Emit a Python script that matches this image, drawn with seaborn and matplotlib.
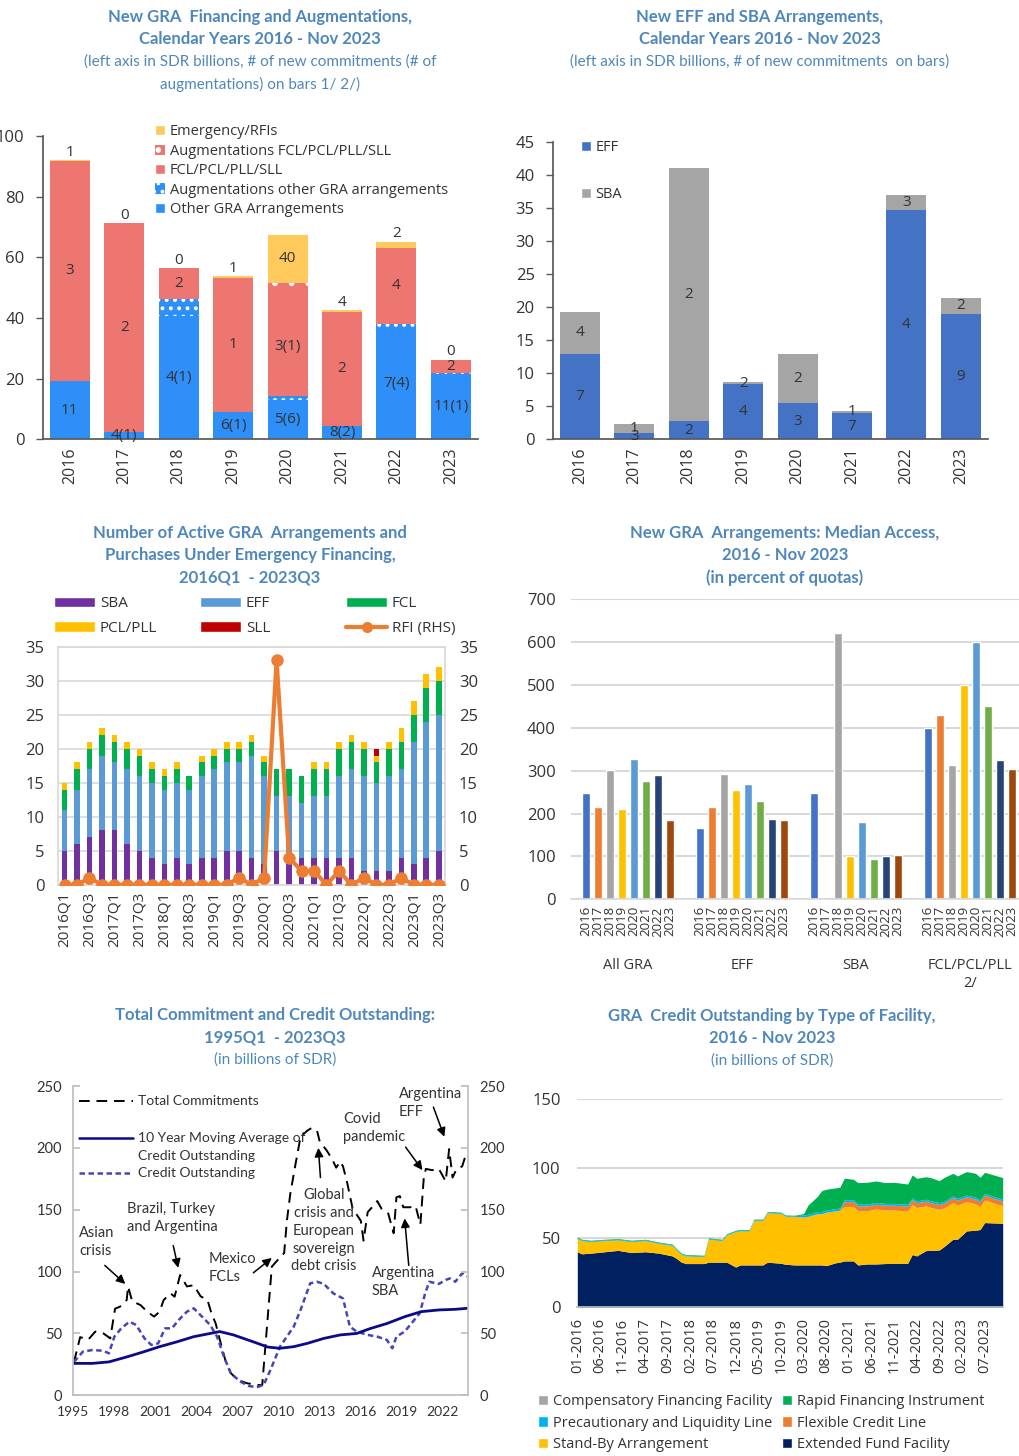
import matplotlib
matplotlib.use("Agg")
import matplotlib.pyplot as plt
import matplotlib.transforms as mtrans
from matplotlib.patches import Patch
from matplotlib.lines import Line2D
import seaborn as sns
import numpy as np
import pandas as pd

# ---------------- data ----------------
# panel 1: new GRA financing and augmentations (SDR bn)
years = ["2016", "2017", "2018", "2019", "2020", "2021", "2022", "2023"]
other_gra = [19.3, 2.5, 40.8, 8.8, 13.0, 4.5, 36.9, 21.4]
aug_other = [0.0, 0.0, 5.5, 0.2, 1.3, 0.0, 1.0, 0.4]
fcl_pcl = [72.5, 68.7, 10.1, 44.3, 32.7, 37.4, 25.3, 4.4]
aug_fcl = [0.0, 0.0, 0.0, 0.0, 4.6, 0.0, 0.0, 0.0]
emergency = [0.3, 0.0, 0.0, 0.4, 15.8, 0.7, 1.9, 0.0]
other_lbl = ["11", "4(1)", "4(1)", "6(1)", "5(6)", "8(2)", "7(4)", "11(1)"]
fcl_lbl = ["3", "2", "2", "1", "3(1)", "2", "4", "2"]
emerg_lbl = ["1", "0", "0", "1", "40", "4", "2", "0"]

# panel 2: new EFF and SBA arrangements (SDR bn)
eff_new = [12.95, 0.9, 2.8, 8.4, 5.5, 4.0, 34.7, 19.0]
sba_new = [6.25, 1.4, 38.2, 0.2, 7.35, 0.3, 2.3, 2.4]
eff_cnt = ["7", "3", "2", "4", "3", "7", "4", "9"]
sba_cnt = ["4", "1", "2", "2", "2", "1", "3", "2"]

# panel 3: number of active arrangements by quarter
quarters = [f"{y}Q{q}" for y in range(2016, 2024) for q in range(1, 5)][:31]
sba_q = [5, 6, 7, 8, 8, 6, 5, 4, 3, 4, 3, 4, 4, 5, 5, 4, 3, 5, 3, 4, 4, 4, 4, 4, 2, 2, 2, 4, 3, 4, 5]
eff_q = [6, 8, 10, 11, 10, 11, 11, 11, 11, 11, 11, 12, 13, 13, 13, 15, 13, 8, 10, 8, 9, 9, 12, 13, 14, 13, 14, 13, 18, 20, 20]
fcl_q = [3, 3, 3, 3, 3, 3, 3, 2, 2, 2, 2, 2, 2, 2, 2, 2, 2, 4, 4, 4, 4, 4, 4, 4, 4, 3, 4, 4, 4, 5, 5]
pcl_q = [1, 1, 1, 1, 1, 1, 1, 1, 1, 1, 0, 1, 1, 1, 1, 1, 1, 0, 0, 0, 1, 1, 1, 1, 1, 1, 1, 2, 2, 2, 2]
sll_q = [0] * 25 + [1] + [0] * 5
rfi_q = [0, 0, 1, 0, 0, 0, 0, 0, 0, 0, 0, 0, 0, 0, 1, 0, 1, 33, 4, 2, 2, 0, 2, 0, 1, 0, 0, 1, 0, 0, 0]

# panel 4: median access (percent of quota)
access_cat = ["All GRA", "EFF", "SBA", "FCL/PCL/PLL\n2/"]
med_all = [248, 215, 301, 210, 327, 276, 289, 186]
med_eff = [167, 215, 292, 255, 269, 229, 188, 186]
med_sba = [248, np.nan, 622, 100, 181, 93, 100, 104]
med_fcl = [400, 430, 313, 500, 600, 450, 324, 303]

# panel 5: commitments and credit outstanding (SDR bn)
comm_t = [1995.05, 1995.5, 1996.1, 1996.6, 1997.2, 1997.7, 1998.05, 1998.4, 1998.9, 1999.0,
          1999.3, 1999.9, 2000.4, 2000.9, 2001.3, 2001.6, 2002.1, 2002.4, 2002.8, 2003.3,
          2003.8, 2004.3, 2004.8, 2005.1, 2005.4, 2005.7, 2006.1, 2006.5, 2007.0, 2007.7,
          2008.5, 2008.8, 2009.5, 2009.9, 2010.4, 2010.6, 2010.85, 2011.2, 2011.6, 2012.1,
          2012.4, 2012.8, 2013.0, 2013.5, 2013.9, 2014.2, 2014.5, 2014.7, 2015.0, 2015.4,
          2016.0, 2016.2, 2016.5, 2016.9, 2017.2, 2017.5, 2018.0, 2018.4, 2018.6, 2018.85,
          2019.1, 2019.6, 2020.0, 2020.35, 2020.6, 2020.75, 2021.2, 2021.7, 2022.2, 2022.45,
          2022.7, 2023.0, 2023.4, 2023.6, 2023.75]
comm_v = [27, 47, 45, 51.5, 50, 46, 70, 71.6, 77, 88,
          76, 73, 67.6, 63.6, 67.6, 77, 82.4, 79.7, 97.2, 88,
          89, 80, 77, 66, 58, 45, 28.5, 18, 12.4, 9.7,
          8.3, 8.3, 104, 109, 115, 141, 163, 185, 209, 214,
          216, 214, 205, 198, 191, 184, 189, 185, 172, 151,
          141, 125, 148, 153, 157, 151, 147, 131, 160, 161,
          152, 152, 153, 138, 176, 183, 182, 183, 173, 199,
          176, 183, 185, 192, 188]
credit_t = [1995.05, 1995.7, 1996.4, 1997.2, 1997.6, 1998.0, 1998.5, 1999.1, 1999.6, 2000.2,
            2000.7, 2001.2, 2001.7, 2002.2, 2002.7, 2003.3, 2003.8, 2004.4, 2005.0, 2005.5,
            2006.0, 2006.5, 2007.2, 2007.8, 2008.4, 2008.9, 2009.4, 2010.1, 2011.1, 2011.6,
            2012.3, 2012.8, 2013.3, 2014.0, 2014.7, 2015.2, 2015.7, 2016.5, 2017.2, 2017.9,
            2018.3, 2018.6, 2019.2, 2019.8, 2020.3, 2020.7, 2021.0, 2021.7, 2022.2, 2022.5,
            2022.9, 2023.4, 2023.75]
credit_v = [27, 35.3, 36.6, 36, 33.9, 47.4, 54.1, 59.5, 56.8, 46,
            40.7, 42, 54.1, 54.1, 60.9, 67.6, 70.3, 63.6, 56.8, 47.4,
            31.3, 17.8, 11.1, 7.6, 6.5, 8.4, 20.5, 39.4, 55.5, 69,
            90.5, 91.8, 90, 82.3, 78.3, 55.5, 51.5, 48.8, 47.4, 44.8,
            38, 47.4, 51.5, 59.5, 66.3, 82.4, 91.8, 90, 93.2, 94.5,
            91.8, 98.6, 96]
ma_t = [1995.05, 1996.4, 1997.6, 1998.9, 2000.1, 2001.3, 2002.5, 2003.8, 2005.0, 2005.7,
        2006.7, 2008.2, 2009.2, 2010.1, 2011.1, 2012.1, 2013.3, 2014.5, 2015.7, 2016.7,
        2017.9, 2019.2, 2020.4, 2021.7, 2022.9, 2023.75]
ma_v = [25.8, 25.8, 27, 31, 35, 39.3, 43, 47.4, 50, 51.5,
        48.8, 43, 39, 38, 39.3, 42, 46, 48.8, 50, 54,
        58, 63.5, 67.6, 69, 69.5, 70.3]

# panel 6: GRA credit outstanding by facility (SDR bn)
months = ["2016-01", "2016-02", "2016-04", "2016-07", "2016-10", "2017-01", "2017-04", "2017-07",
          "2017-10", "2017-11", "2017-12", "2018-01", "2018-05", "2018-06", "2018-09", "2018-10",
          "2018-12", "2019-01", "2019-03", "2019-04", "2019-06", "2019-07", "2019-10", "2019-11",
          "2020-01", "2020-03", "2020-04", "2020-06", "2020-07", "2020-08", "2020-10", "2020-11",
          "2020-12", "2021-02", "2021-03", "2021-05", "2021-07", "2021-09", "2021-11", "2022-02",
          "2022-03", "2022-04", "2022-06", "2022-07", "2022-09", "2022-10", "2022-12", "2023-01",
          "2023-03", "2023-05", "2023-06", "2023-07", "2023-11"]
out_eff = [40, 38.5, 39, 40, 41, 39.4, 40, 39, 37, 35, 32.5, 31.5, 31.5, 32.5, 32.5, 32.5,
           29, 30.5, 30.5, 30.5, 30.5, 32.5, 31.7, 31, 30.5, 30.5, 30.5, 30.5, 30.5, 30, 32, 32.5,
           33.4, 33.4, 30.5, 31.2, 31.2, 31.5, 31.7, 31.7, 38, 37, 40.8, 41, 41.3, 43.7, 49, 49,
           55, 55.5, 56, 61, 60.5]
out_sba = [9.5, 9.5, 8.3, 8.0, 7.5, 7.9, 8.0, 7.0, 7.5, 6.0, 5.5, 5.5, 5.0, 16.5, 15.5, 19.5,
           25.5, 24.5, 24.5, 32.0, 32.0, 35.5, 35.8, 34.5, 35.0, 34.5, 35.0, 37.0, 37.0, 38.5, 37.5, 37.5,
           39.1, 39.1, 38.9, 38.3, 39.6, 38.5, 38.3, 37.7, 36.0, 34.8, 32.2, 31.0, 29.2, 27.8, 26.4, 24.7,
           21.0, 19.0, 16.5, 16.3, 12.5]
out_fcl = [0.0] * 32 + [3.6, 3.6] + [3.5] * 19
out_pll = [0.5] * 25 + [1.5] * 7 + [1.4, 1.4] + [1.3] * 19
out_rfi = [0.5] * 24 + [0.3, 1.0, 6.7, 10.7, 15.0, 15.0, 15.0, 14.9,
           15.5, 14.7, 15.6, 15.7, 15.4, 15.0, 15.2, 14.6, 16.5, 16.3, 16.2, 16.7, 15.9, 17.1, 16.3, 16.1,
           16.9, 17.2, 16.3, 15.1, 15.6]
out_cff = [0.0] * 53

# ---------------- style ----------------
W, H = 1019, 1456
TITLE_C = "#4F87BA"
TXT = "#333333"
sns.set_theme(style="white")
plt.rcParams["font.family"] = ["Open Sans", "DejaVu Sans"]
plt.rcParams["hatch.linewidth"] = 1.6
plt.rcParams["text.color"] = TXT
plt.rcParams["xtick.color"] = TXT
plt.rcParams["ytick.color"] = TXT

fig = plt.figure(figsize=(W / 100, H / 100), dpi=100)


def box(l, t, r, b):
    return [l / W, 1 - b / H, (r - l) / W, (b - t) / H]


def title(x, y, lines):
    for i, (s, bold) in enumerate(lines):
        fig.text(x / W, 1 - (y + 22.4 * i) / H, s, ha="center", va="center", color=TITLE_C,
                 family="Lato", fontsize=12 if bold else 11,
                 fontweight="bold" if bold else "normal")


def stacked(ax, x, layers, width):
    # draw the cumulative totals from the top down so each layer covers the one below
    cum = np.cumsum([np.asarray(v, float) for v, _, _ in layers], axis=0)
    for i in range(len(layers) - 1, -1, -1):
        _, c, h = layers[i]
        sns.barplot(x=x, y=cum[i], color=c, width=width, saturation=1, errorbar=None, ax=ax,
                    hatch=h, edgecolor="white" if h else c, linewidth=0)
    return cum


def excel_axes(ax):
    for s in ["top", "right"]:
        ax.spines[s].set_visible(False)
    for s in ["left", "bottom"]:
        ax.spines[s].set_color("#595959")
    ax.set_xlabel("")
    ax.set_ylabel("")


# ---------------- panel 1 ----------------
BLUE1, RED1, GOLD1 = "#2D8FF7", "#EE7670", "#FFC95C"
ax1 = fig.add_axes(box(42.7, 136, 478, 439.3))
cum1 = stacked(ax1, years, [(other_gra, BLUE1, None), (aug_other, BLUE1, ".."),
                            (fcl_pcl, RED1, None), (aug_fcl, RED1, "."),
                            (emergency, GOLD1, None)], 0.735)
ax1.set_ylim(0, 100)
ax1.set_yticks(range(0, 101, 20))
excel_axes(ax1)
ax1.tick_params(axis="y", direction="out", length=5, width=1, color="#595959", pad=8, labelsize=12, left=True)
ax1.tick_params(axis="x", length=0, pad=6, labelsize=11.5, labelrotation=90)
for i in range(len(years)):
    ax1.text(i, cum1[0][i] / 2, other_lbl[i], ha="center", va="center", fontsize=11)
    ax1.text(i, (cum1[1][i] + cum1[2][i]) / 2, fcl_lbl[i], ha="center", va="center", fontsize=11)
    if emergency[i] > 5:
        ax1.text(i, (cum1[3][i] + cum1[4][i]) / 2, emerg_lbl[i], ha="center", va="center", fontsize=11)
    else:
        ax1.text(i, cum1[4][i] + 2.6, emerg_lbl[i], ha="center", va="center", fontsize=11)
h1 = [Patch(facecolor=GOLD1, label="Emergency/RFIs"),
      Patch(facecolor=RED1, hatch=".", edgecolor="white", linewidth=0, label="Augmentations FCL/PCL/PLL/SLL"),
      Patch(facecolor=RED1, label="FCL/PCL/PLL/SLL"),
      Patch(facecolor=BLUE1, hatch="..", edgecolor="white", linewidth=0, label="Augmentations other GRA arrangements"),
      Patch(facecolor=BLUE1, label="Other GRA Arrangements")]
ax1.legend(handles=h1, loc="upper left", bbox_to_anchor=(0.258, 1.038), frameon=False, fontsize=10.5,
           handlelength=0.7, handleheight=0.7, handletextpad=0.3, labelspacing=0.3, borderpad=0,
           borderaxespad=0)
title(260, 17, [("New GRA  Financing and Augmentations,", True), ("Calendar Years 2016 - Nov 2023", True),
                ("(left axis in SDR billions, # of new commitments (# of", False),
                ("augmentations) on bars 1/ 2/)", False)])

# ---------------- panel 2 ----------------
EFF2, SBA2 = "#4472C4", "#A5A5A5"
ax2 = fig.add_axes(box(552.7, 141.7, 988, 439.3))
cum2 = stacked(ax2, years, [(eff_new, EFF2, None), (sba_new, SBA2, None)], 0.735)
ax2.set_ylim(0, 45)
ax2.set_yticks(range(0, 46, 5))
excel_axes(ax2)
ax2.tick_params(axis="y", direction="out", length=5, width=1, color="#595959", pad=8, labelsize=12, left=True)
ax2.tick_params(axis="x", length=0, pad=6, labelsize=11.5, labelrotation=90)
for i in range(len(years)):
    ax2.text(i, cum2[0][i] / 2, eff_cnt[i], ha="center", va="center", fontsize=11)
    ax2.text(i, (cum2[0][i] + cum2[1][i]) / 2, sba_cnt[i], ha="center", va="center", fontsize=11)
ax2.legend(handles=[Patch(facecolor=EFF2, label="EFF"), Patch(facecolor=SBA2, label="SBA")],
           loc="upper left", bbox_to_anchor=(0.064, 1.005), frameon=False, fontsize=10.5,
           handlelength=0.7, handleheight=0.7, handletextpad=0.3, labelspacing=2.2, borderpad=0,
           borderaxespad=0)
title(760, 17, [("New EFF and SBA Arrangements,", True), ("Calendar Years 2016 - Nov 2023", True),
                ("(left axis in SDR billions, # of new commitments  on bars)", False)])

# ---------------- panel 3 ----------------
C3 = {"SBA": "#7030A0", "EFF": "#5B9BD5", "FCL": "#00B050", "PCL/PLL": "#FFC000", "SLL": "#C00000"}
RFI_C = "#ED7D31"
GRID = "#D9D9D9"
ax3 = fig.add_axes(box(58.3, 646.7, 445, 884.7))
stacked(ax3, quarters, [(sba_q, C3["SBA"], None), (eff_q, C3["EFF"], None), (fcl_q, C3["FCL"], None),
                        (pcl_q, C3["PCL/PLL"], None), (sll_q, C3["SLL"], None)], 0.45)
ax3.set_ylim(0, 35)
ax3.set_yticks(range(0, 36, 5))
ax3.yaxis.grid(True, color=GRID, lw=1.2)
ax3.set_axisbelow(True)
for s in ax3.spines.values():
    s.set_color(GRID)
ax3.set_xticks(range(0, len(quarters), 2))
ax3.set_xticklabels(quarters[::2])
ax3.tick_params(axis="x", length=0, pad=5, labelsize=11, labelrotation=90)
ax3.tick_params(axis="y", length=0, pad=10, labelsize=12)
ax3.set_xlabel("")
ax3b = ax3.twinx()
sns.lineplot(x=np.arange(len(quarters)), y=rfi_q, ax=ax3b, color=RFI_C, lw=3, marker="o",
             markersize=9, markeredgewidth=0)
ax3b.set_ylim(0, 35)
ax3b.set_yticks(range(0, 36, 5))
ax3b.tick_params(axis="y", length=0, pad=10, labelsize=12)
for s in ax3b.spines.values():
    s.set_visible(False)
ax3.set_xlim(-0.5, len(quarters) - 0.5)
leg_cols = [[("SBA", Patch(facecolor=C3["SBA"])), ("PCL/PLL", Patch(facecolor=C3["PCL/PLL"]))],
            [("EFF", Patch(facecolor=C3["EFF"])), ("SLL", Patch(facecolor=C3["SLL"]))],
            [("FCL", Patch(facecolor=C3["FCL"])),
             ("RFI (RHS)", Line2D([], [], color=RFI_C, lw=3, marker="o", markersize=8, markeredgewidth=0))]]
for xl, col in zip([54, 200, 346], leg_cols):
    fig.legend(handles=[h for _, h in col], labels=[t for t, _ in col], loc="upper left",
               bbox_to_anchor=(xl / W, 1 - 596 / H), frameon=False, fontsize=11,
               handlelength=2.7, handleheight=0.65, handletextpad=0.3, labelspacing=0.65,
               borderpad=0, borderaxespad=0)
title(250, 533, [("Number of Active GRA  Arrangements and", True),
                 ("Purchases Under Emergency Financing,", True), ("2016Q1  - 2023Q3", True)])

# ---------------- panel 4 ----------------
PAL4 = ["#4472C4", "#ED7D31", "#A5A5A5", "#FFC000", "#5B9BD5", "#70AD47", "#264478", "#9E480E"]
df4 = pd.DataFrame({"cat": np.repeat(access_cat, len(years)),
                    "year": years * len(access_cat),
                    "val": med_all + med_eff + med_sba + med_fcl}).fillna(0)
ax4 = fig.add_axes(box(571, 599.3, 1027, 899.3))
sns.barplot(data=df4, x="cat", y="val", hue="year", palette=PAL4, width=0.84, gap=0.28,
            saturation=1, errorbar=None, legend=False, ax=ax4)
ax4.set_ylim(0, 700)
ax4.set_yticks(range(0, 701, 100))
ax4.yaxis.grid(True, color=GRID, lw=1.5)
ax4.set_axisbelow(True)
for s in ["top", "right", "left"]:
    ax4.spines[s].set_visible(False)
ax4.spines["bottom"].set_color(GRID)
ax4.set_xlabel("")
ax4.set_ylabel("")
centers = sorted(p.get_x() + p.get_width() / 2 for p in ax4.patches)
ax4.set_xticks(centers)
ax4.set_xticklabels(years * len(access_cat), rotation=90, fontsize=9.5)
ax4.tick_params(axis="x", length=0, pad=5)
ax4.tick_params(axis="y", length=0, pad=11, labelsize=12)
tr4 = mtrans.blended_transform_factory(ax4.transData, ax4.transAxes)
for i, c in enumerate(access_cat):
    ax4.text(i, -0.195, c, transform=tr4, ha="center", va="top", fontsize=10.5, linespacing=1.3)
title(785, 533, [("New GRA  Arrangements: Median Access,", True), ("2016 - Nov 2023", True),
                 ("(in percent of quotas)", True)])

# ---------------- panel 5 ----------------
COMM_C, MA_C, CRED_C = "#000000", "#0B0B8A", "#4545B8"
ax5 = fig.add_axes(box(73.3, 1086, 468.3, 1395.3))
sns.lineplot(x=comm_t, y=comm_v, ax=ax5, color=COMM_C, lw=1.4, linestyle=(0, (5.5, 3.5)))
sns.lineplot(x=credit_t, y=credit_v, ax=ax5, color=CRED_C, lw=1.8, linestyle=(0, (2.2, 1.4)))
sns.lineplot(x=ma_t, y=ma_v, ax=ax5, color=MA_C, lw=2)
ax5.set_xlim(1995, 2023.85)
ax5.set_ylim(0, 250)
ax5.set_yticks(range(0, 251, 50))
ax5.set_xticks(range(1995, 2023, 3))
ax5.set_xticks(range(1995, 2024), minor=True)
ax5.spines["top"].set_visible(False)
for s in ["left", "right", "bottom"]:
    ax5.spines[s].set_color("#BFBFBF")
ax5.tick_params(axis="x", which="both", direction="out", length=5, color="#BFBFBF", labelsize=10, pad=3)
ax5.tick_params(axis="y", direction="in", length=5, color="#BFBFBF", labelsize=10.5, pad=8, left=True)
ax5.set_xlabel("")
ax5.set_ylabel("")
for lab in ax5.get_xticklabels() + ax5.get_yticklabels():
    lab.set_family("Lato")
ax5b = ax5.twinx()
ax5b.set_ylim(0, 250)
ax5b.set_yticks(range(0, 251, 50))
ax5b.tick_params(axis="y", direction="in", length=5, color="#BFBFBF", labelsize=10.5, pad=8)
for s in ax5b.spines.values():
    s.set_visible(False)
for lab in ax5b.get_yticklabels():
    lab.set_family("Lato")
# legend drawn as in the source chart
for y, c, ls in [(0.951, COMM_C, (0, (5.5, 3.5))), (0.832, MA_C, "-"), (0.719, CRED_C, (0, (2.2, 1.4)))]:
    ax5.add_line(Line2D([0.015, 0.152], [y, y], transform=ax5.transAxes, color=c,
                        lw=1.8 if c != COMM_C else 1.4, linestyle=ls))
for y, s in [(0.951, "Total Commitments"), (0.832, "10 Year Moving Average of"),
             (0.774, "Credit Outstanding"), (0.719, "Credit Outstanding")]:
    ax5.text(0.163, y, s, transform=ax5.transAxes, va="center", ha="left", family="Lato", fontsize=10)
notes = [("Asian\ncrisis", 1995.42, 124, "left", (1997.3, 105), (1998.8, 90)),
         ("Brazil, Turkey\nand Argentina", 1998.93, 143, "left", (2002.3, 121), (2002.66, 103)),
         ("Mexico\nFCLs", 2004.85, 103, "left", (2008.15, 99), (2009.5, 111)),
         ("Global\ncrisis and\nEuropean\nsovereign\ndebt crisis", 2013.3, 133, "center", (2013.05, 176), (2012.9, 200)),
         ("Covid\npandemic", 2014.7, 216, "left", (2019.27, 200.6), (2020.5, 182)),
         ("Argentina\nEFF", 2018.75, 236, "left", (2021.3, 233), (2022.1, 209)),
         ("Argentina\nSBA", 2016.8, 91.6, "left", (2019.5, 105), (2019.2, 143))]
for s, x, y, ha, tail, tip in notes:
    ax5.text(x, y, s, ha=ha, va="center", family="Lato", fontsize=10.5, linespacing=1.35)
    ax5.annotate("", xy=tip, xytext=tail,
                 arrowprops=dict(arrowstyle="-|>", color="black", lw=1.1, mutation_scale=13,
                                 shrinkA=0, shrinkB=0))
title(275, 1015, [("Total Commitment and Credit Outstanding:", True), ("1995Q1  - 2023Q3", True),
                  ("(in billions of SDR)", False)])

# ---------------- panel 6 ----------------
C6 = ["#002060", "#FFC000", "#ED7D31", "#00B0F0", "#00B050", "#A5A5A5"]
mdt = pd.to_datetime(months)
midx = (mdt.year - 2016) * 12 + mdt.month - 1
ax6 = fig.add_axes(box(577.3, 1099, 1002.7, 1307.3))
ax6.stackplot(midx, out_eff, out_sba, out_fcl, out_pll, out_rfi, out_cff, colors=C6, linewidth=0)
ax6.set_xlim(0, 94)
ax6.set_ylim(0, 150)
ax6.set_yticks([0, 50, 100, 150])
ax6.yaxis.grid(True, color=GRID, lw=1.5)
ax6.set_axisbelow(True)
for s in ["top", "right", "left"]:
    ax6.spines[s].set_visible(False)
ax6.spines["bottom"].set_color("#BFBFBF")
tick_m = list(range(0, 95, 5))
ax6.set_xticks(tick_m)
ax6.set_xticklabels([f"{m % 12 + 1:02d}-{2016 + m // 12}" for m in tick_m], rotation=90)
ax6.set_xticks(range(95), minor=True)
ax6.tick_params(axis="x", which="both", direction="out", length=6, color="#BFBFBF", labelsize=10.5, pad=2)
ax6.tick_params(axis="y", length=0, pad=12, labelsize=12)
leg6 = [("Compensatory Financing Facility", C6[5]), ("Precautionary and Liquidity Line", C6[3]),
        ("Stand-By Arrangement", C6[1]), ("Rapid Financing Instrument", C6[4]),
        ("Flexible Credit Line", C6[2]), ("Extended Fund Facility", C6[0])]
fig.legend(handles=[Patch(facecolor=c, label=t) for t, c in leg6], loc="upper left",
           bbox_to_anchor=(538 / W, 1 - 1394 / H), ncol=2, frameon=False, fontsize=10.5,
           handlelength=0.7, handleheight=0.7, handletextpad=0.3, labelspacing=0.45,
           columnspacing=0.7, borderpad=0, borderaxespad=0)
title(772, 1016, [("GRA  Credit Outstanding by Type of Facility,", True), ("2016 - Nov 2023", True),
                  ("(in billions of SDR)", False)])

fig.savefig("out.png", dpi=100)
